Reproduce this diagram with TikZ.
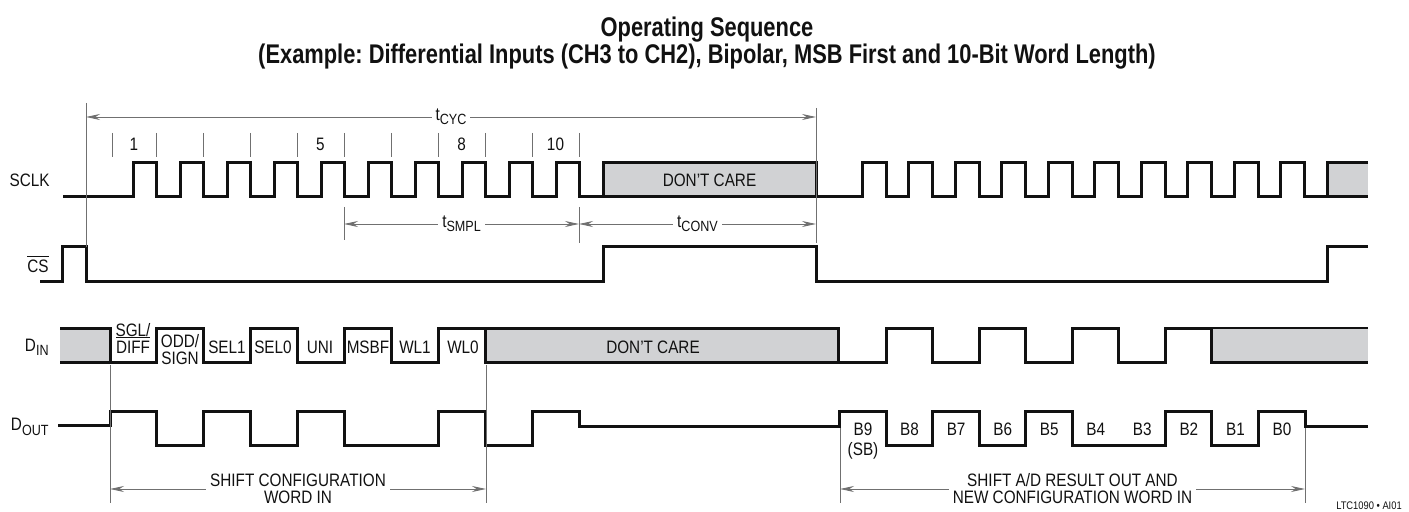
\documentclass[tikz,border=0pt]{standalone}
\usepackage{fontspec}
\setmainfont{Liberation Sans}[FakeStretch=0.85]
\newfontfamily\ttlfont{Liberation Sans}[FakeStretch=0.81]
\usetikzlibrary{arrows.meta,positioning}
\frenchspacing
\definecolor{ink}{HTML}{111111}
\definecolor{dcgray}{HTML}{D1D2D4}
\definecolor{dimgray}{HTML}{707070}
\newcommand\lsub[1]{\raisebox{-0.45ex}{\fontsize{7.4}{8}\selectfont #1}}
\tikzset{
  sig/.style  ={draw=ink, line width=1.5pt, line join=miter},
  dc/.style   ={sig, fill=dcgray},
  ext/.style  ={draw=dimgray, line width=.45pt},
  dim/.style  ={ext, {Stealth[length=7pt,width=3pt]}-{Stealth[length=7pt,width=3pt]}},
  lbl/.style  ={font=\fontsize{9}{8.5}\selectfont, text=ink, inner sep=1pt},
  sgnl/.style ={lbl, anchor=east},
  bit/.style  ={lbl, align=center},
  gap/.style  ={lbl, align=center, fill=white, inner xsep=2pt, inner ysep=0pt},
  ttl/.style  ={font=\ttlfont\bfseries\fontsize{13.5}{12.2}\selectfont, text=ink, align=center},
}
\begin{document}
\begin{tikzpicture}[x=0.5pt,y=-0.5pt]
  \useasboundingbox (0,0) rectangle (1409,512);

  % title
  \node[ttl] (title) at (707,43) {Operating Sequence\\(Example: Differential Inputs (CH3 to CH2), Bipolar, MSB First and 10-Bit Word Length)};

  % signal names
  \node[sgnl] (sclk) at (52,180) {SCLK};
  \node[sgnl] (cs)   at (51,264) {$\overline{\mbox{CS}}$};
  \node[sgnl] (din)  at (51,347) {D\lsub{IN}};
  \node[sgnl] (dout) at (51,427) {D\lsub{OUT}};

  % SCLK
  \draw[sig] (63,197) \foreach \k in {0,...,9}{ -- ({133+47*\k},197) -- ++(0,-34) -- ++(23,0) -- ++(0,34)} -- (603,197);
  \node[dc, lbl, minimum width=106.5pt, minimum height=17pt, inner sep=0pt] (sclkdc) at (709.5,180) {DON'T CARE};
  \draw[sig] (816,197) \foreach \k in {0,...,9}{ -- ({862+46.55*\k},197) -- ++(0,-34) -- ++(24,0) -- ++(0,34)} -- (1327,197);
  \fill[dcgray] (1327,163) rectangle (1368,197);
  \draw[sig] (1368,163) -- (1327,163) -- (1327,197) -- (1368,197);

  % clock ticks and counts
  \foreach \x in {112,156,203,250,297,344,391,438,485,532,579}
    \draw[ext] (\x,133) -- (\x,157);
  \node[lbl] (n1)  at (134,144)   {1};
  \node[lbl] (n5)  at (320.5,144) {5};
  \node[lbl] (n8)  at (461.5,144) {8};
  \node[lbl] (n10) at (555.5,144) {10};

  % CS
  \draw[sig] (40,282) -| (62,247) -| (86,282) -| (603,247) -| (816,282) -| (1327,247) -- (1368,247);

  % DIN
  \fill[dcgray] (60,329) rectangle (110,363);
  \draw[sig] (60,329) -- (110,329) -- (110,363);
  \draw[sig] (60,363) -- (156,363) -- (156,329) -- (203,329) -- (203,363) -- (250,363) -- (250,329)
    -- (297,329) -- (297,363) -- (344,363) -- (344,329) -- (391,329) -- (391,363) -- (438,363) -- (438,329) -- (485,329);
  \filldraw[dc] (485,329) rectangle (838,363);
  \node[lbl] (dindc) at (653,347) {DON'T CARE};
  \draw[sig] (838,363) \foreach \k in {0,2,4}{ -- ({886+46.55*\k},363) -- ++(0,-34) -- ({886+46.55*(\k+1)},329) -- ++(0,34)}
    -- (1165.3,363) -- (1165.3,329) -- (1368,329);
  \fill[dcgray] (1211.9,329) rectangle (1368,363);
  \draw[sig] (1211.9,329) -- (1211.9,363) -- (1368,363);
  \node[bit] (sgl)  at (133,338) {SGL/\\$\overline{\mbox{DIFF}}$};
  \node[bit] (odd)  at (180,350) {ODD/\\SIGN};
  \node[bit] (sel1) at (227,347) {SEL1};
  \node[bit] (sel0) at (273,347) {SEL0};
  \node[bit] (uni)  at (320,347) {UNI};
  \node[bit] (msbf) at (368,347) {MSBF};
  \node[bit] (wl1)  at (415,347) {WL1};
  \node[bit] (wl0)  at (463,347) {WL0};

  % DOUT
  \draw[sig] (58,426) -- (110,426) -- (110,412) -- (156,412) -- (156,446) -- (203,446) -- (203,412) -- (250,412)
    -- (250,446) -- (297,446) -- (297,412) -- (344,412) -- (344,446) -- (438,446) -- (438,412) -- (485,412)
    -- (485,446) -- (532,446) -- (532,412) -- (579,412) -- (579,427) -- (839.5,427) -- (839.5,412)
    -- (886.05,412) -- (886.05,446) -- (932.6,446) -- (932.6,412) -- (979.15,412) -- (979.15,446)
    -- (1025.7,446) -- (1025.7,412) -- (1072.25,412) -- (1072.25,446) -- (1165.35,446) -- (1165.35,412)
    -- (1211.9,412) -- (1211.9,446) -- (1258.45,446) -- (1258.45,412) -- (1305,412) -- (1305,427) -- (1368,427);
  \node[bit] (b9) at (863,429) {B9};
  \node[bit] (sb) at (863,451) {(SB)};
  \foreach \b in {8,...,0}
    \node[bit] (b\b) at ({863+46.55*(9-\b)},429) {B\b};

  % timing marks
  \coordinate (cycL) at (86,117);   \coordinate (cycR) at (816,117);
  \coordinate (smpL) at (344,224);  \coordinate (smpR) at (579,224);
  \coordinate (cnvR) at (816,224);
  \coordinate (cfgL) at (110,489);  \coordinate (cfgR) at (486,489);
  \coordinate (adL)  at (840,489);  \coordinate (adR)  at (1305,489);
  \draw[ext] (86,103) -- (86,247);
  \draw[ext] (816,108) -- (816,243);
  \draw[ext] (344,207) -- (344,240);
  \draw[ext] (579,207) -- (579,243);
  \draw[ext] (110,365) -- (110,503);
  \draw[ext] (486,365) -- (486,503);
  \draw[ext] (840,428) -- (840,503);
  \draw[ext] (1305,428) -- (1305,503);
  \draw[dim] (cycL) -- node[gap] (tcyc) {t\lsub{CYC}} (cycR);
  \draw[dim] (smpL) -- node[gap] (tsmpl) {t\lsub{SMPL}} (smpR);
  \draw[dim] (smpR) -- node[gap] (tconv) {t\lsub{CONV}} (cnvR);
  \draw[dim] (cfgL) -- node[gap] (cfg) {SHIFT CONFIGURATION\\WORD IN} (cfgR);
  \draw[dim] (adL) -- node[gap] (adres) {SHIFT A/D RESULT OUT AND\\NEW CONFIGURATION WORD IN} (adR);

  \node[font=\fontsize{5.5}{6}\selectfont, text=ink] (fig) at (1369,506) {LTC1090 • AI01};
\end{tikzpicture}
\end{document}
